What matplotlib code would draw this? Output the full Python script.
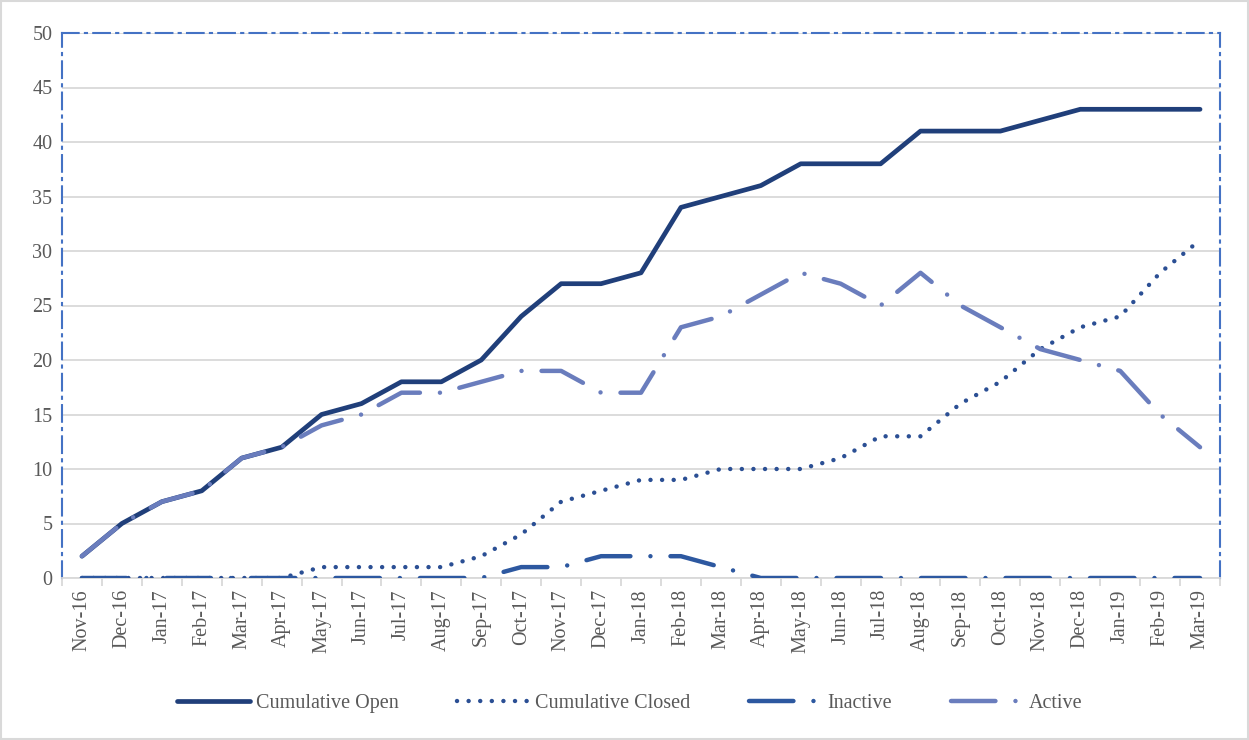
import matplotlib.pyplot as plt
from matplotlib.patches import Rectangle

# Datos
months = ['Nov-16', 'Dec-16', 'Jan-17', 'Feb-17', 'Mar-17', 'Apr-17', 'May-17', 'Jun-17',
          'Jul-17', 'Aug-17', 'Sep-17', 'Oct-17', 'Nov-17', 'Dec-17', 'Jan-18', 'Feb-18',
          'Mar-18', 'Apr-18', 'May-18', 'Jun-18', 'Jul-18', 'Aug-18', 'Sep-18', 'Oct-18',
          'Nov-18', 'Dec-18', 'Jan-19', 'Feb-19', 'Mar-19']
cum_open = [2, 5, 7, 8, 11, 12, 15, 16, 18, 18, 20, 24, 27, 27, 28, 34, 35, 36, 38, 38,
            38, 41, 41, 41, 42, 43, 43, 43, 43]
cum_closed = [0, 0, 0, 0, 0, 0, 1, 1, 1, 1, 2, 4, 7, 8, 9, 9, 10, 10, 10, 11,
              13, 13, 16, 18, 21, 23, 24, 28, 31]
inactive = [0, 0, 0, 0, 0, 0, 0, 0, 0, 0, 0, 1, 1, 2, 2, 2, 1, 0, 0, 0,
            0, 0, 0, 0, 0, 0, 0, 0, 0]
active = [2, 5, 7, 8, 11, 12, 14, 15, 17, 17, 18, 19, 19, 17, 17, 23, 24, 26, 28, 27,
          25, 28, 25, 23, 21, 20, 19, 15, 12]

plt.rcParams['font.family'] = ['Liberation Serif', 'DejaVu Serif']

fig = plt.figure(figsize=(12.49, 7.40), dpi=100)
ax = fig.add_axes([62 / 1249, 1 - 578 / 740, (1220 - 62) / 1249, (578 - 33) / 740])

x = list(range(len(months)))

ax.plot(x, cum_open, color='#203F7A', lw=3.4, solid_capstyle='round', solid_joinstyle='round',
        label='Cumulative Open', zorder=3)
ax.plot(x, cum_closed, color='#2B4F94', lw=3.2, linestyle=(0, (0.01, 2.6)),
        dash_capstyle='round', label='Cumulative Closed', zorder=4)
ax.plot(x, inactive, color='#2D58A0', lw=3.2, linestyle=(0, (10, 4.5, 0.01, 4.5)),
        dash_capstyle='round', label='Inactive', zorder=5)
ax.plot(x, active, color='#6A7DBD', lw=3.2, linestyle=(0, (10, 4.5, 0.01, 4.5)),
        dash_capstyle='round', label='Active', zorder=6)

# Ejes
ax.set_xlim(-0.5, len(months) - 0.5)
ax.set_ylim(0, 50)
ax.set_yticks(range(0, 51, 5))
ax.set_xticks(x)
ax.set_xticklabels(months, rotation=90)
ax.set_xticks([i - 0.5 for i in range(len(months) + 1)], minor=True)
ax.grid(axis='y', color='#D9D9D9', lw=1.3, zorder=0)
ax.tick_params(axis='y', length=0, labelsize=14.5, labelcolor='#595959', pad=7)
ax.tick_params(axis='x', which='major', length=0, labelsize=14.5, labelcolor='#595959', pad=8)
ax.tick_params(axis='x', which='minor', length=6, color='#D9D9D9', width=1.3)

for side in ['left', 'top', 'right']:
    ax.spines[side].set_color('#4472C4')
    ax.spines[side].set_linewidth(1.5)
    ax.spines[side].set_linestyle((0, (8, 3, 1, 3)))
ax.spines['bottom'].set_color('#D9D9D9')
ax.spines['bottom'].set_linewidth(1.3)

# Leyenda
fig.legend(loc='center', bbox_to_anchor=(630 / 1249, 1 - 703 / 740), ncol=4, frameon=False,
           fontsize=14.5, labelcolor='#595959', handlelength=3.6, handletextpad=0.3,
           columnspacing=2.9)

# Borde exterior
fig.patches.append(Rectangle((0.001, 0.001), 0.998, 0.998, transform=fig.transFigure,
                             fill=False, edgecolor='#D9D9D9', lw=1.5))

plt.savefig('out.png', dpi=100)
